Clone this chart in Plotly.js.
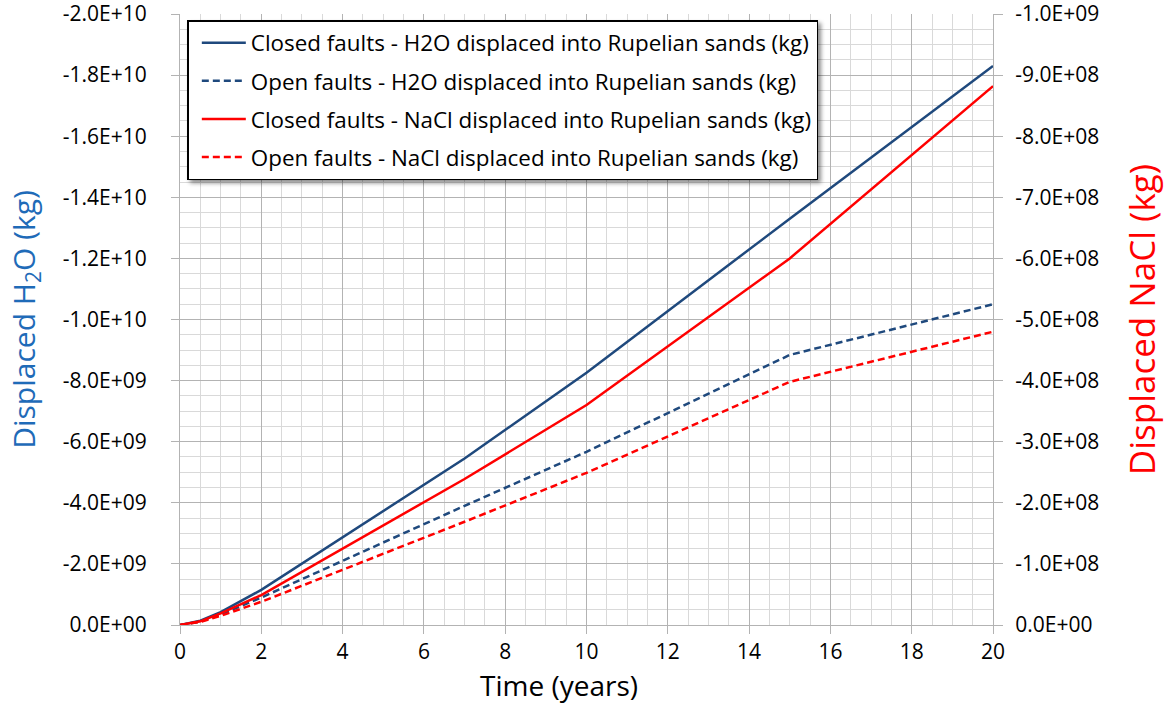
<!DOCTYPE html>
<html>
<head>
<meta charset="utf-8">
<script src="https://cdn.plot.ly/plotly-3.0.1.min.js"></script>
<style>
  html, body { margin: 0; padding: 0; background: #ffffff; }
  #chart { width: 1174px; height: 706px; }
  #chart .legend rect.bg { filter: drop-shadow(3px 3px 2px rgba(0,0,0,0.45)); }
</style>
</head>
<body>
<div id="chart"></div>
<script>
// ---- data ----
const timeYears = [0, 0.5, 1, 2, 7, 10, 15, 20];

// left axis: displaced H2O (kg)
const closedH2O = [0, -1.4e8, -4.2e8, -1.15e9, -5.45e9, -8.26e9, -1.33e10, -1.83e10];
const openH2O   = [0, -1.1e8, -3.4e8, -9.0e8,  -3.9e9,  -5.67e9, -8.84e9,  -1.05e10];

// right axis: displaced NaCl (kg)
const closedNaCl = [0, -6.0e6, -1.9e7, -4.9e7, -2.39e8, -3.60e8, -6.00e8, -8.82e8];
const openNaCl   = [0, -5.0e6, -1.5e7, -3.8e7, -1.69e8, -2.49e8, -3.98e8, -4.80e8];

const seriesNames = [
  'Closed faults - H2O displaced into Rupelian sands (kg)',
  'Open faults - H2O displaced into Rupelian sands (kg)',
  'Closed faults - NaCl displaced into Rupelian sands (kg)',
  'Open faults - NaCl displaced into Rupelian sands (kg)'
];
const xTitle = 'Time (years)';

const xTicks = [0, 2, 4, 6, 8, 10, 12, 14, 16, 18, 20];
const leftTickVals = [0, -2e9, -4e9, -6e9, -8e9, -1e10, -1.2e10, -1.4e10, -1.6e10, -1.8e10, -2e10];
const leftTickText = ['0.0E+00', '-2.0E+09', '-4.0E+09', '-6.0E+09', '-8.0E+09', '-1.0E+10',
                      '-1.2E+10', '-1.4E+10', '-1.6E+10', '-1.8E+10', '-2.0E+10'];
const rightTickVals = [0, -1e8, -2e8, -3e8, -4e8, -5e8, -6e8, -7e8, -8e8, -9e8, -1e9];
const rightTickText = ['0.0E+00', '-1.0E+08', '-2.0E+08', '-3.0E+08', '-4.0E+08', '-5.0E+08',
                       '-6.0E+08', '-7.0E+08', '-8.0E+08', '-9.0E+08', '-1.0E+09'];

// ---- styling ----
const BLUE = '#1f497d';
const RED = '#ff0000';
const FONT = '"Open Sans", "Noto Sans", sans-serif';
const DASH = '7px,4px';

const traces = [
  { x: timeYears, y: closedH2O, name: seriesNames[0], yaxis: 'y', legendgroup: 'a',
    mode: 'lines', line: { color: BLUE, width: 2.5 } },
  { x: timeYears, y: openH2O, name: seriesNames[1], yaxis: 'y', legendgroup: 'b',
    mode: 'lines', line: { color: BLUE, width: 2.5, dash: DASH } },
  { x: timeYears, y: closedNaCl, name: seriesNames[2], yaxis: 'y2', legendgroup: 'c',
    mode: 'lines', line: { color: RED, width: 2.5 } },
  { x: timeYears, y: openNaCl, name: seriesNames[3], yaxis: 'y2', legendgroup: 'd',
    mode: 'lines', line: { color: RED, width: 2.5, dash: DASH } }
];

const layout = {
  width: 1174, height: 706,
  margin: { l: 180, r: 181, t: 14, b: 81 },
  paper_bgcolor: '#ffffff', plot_bgcolor: '#ffffff',
  font: { family: FONT, size: 20, color: '#000000' },
  showlegend: true,
  legend: {
    x: 0.009, y: 0.99, xanchor: 'left', yanchor: 'top',
    bgcolor: '#ffffff', bordercolor: '#000000', borderwidth: 1.5,
    font: { family: FONT, size: 22.4, color: '#000000' },
    traceorder: 'grouped', tracegroupgap: 6, itemwidth: 44, indentation: 8
  },
  xaxis: {
    range: [0, 20], tickvals: xTicks, ticktext: xTicks.map(String),
    showgrid: true, gridcolor: '#b3b3b3', gridwidth: 1,
    minor: { dtick: 0.5, showgrid: true, gridcolor: '#d9d9d9', gridwidth: 1 },
    ticks: 'outside', ticklen: 8, tickcolor: '#b3b3b3', ticklabelstandoff: 0,
    ticklabeloverflow: 'allow',
    showline: true, linecolor: '#b3b3b3', linewidth: 1,
    zeroline: false,
    tickfont: { family: FONT, size: 21, color: '#000000' }
  },
  yaxis: {
    range: [0, -2e10], tickvals: leftTickVals, ticktext: leftTickText,
    showgrid: true, gridcolor: '#b3b3b3', gridwidth: 1,
    minor: { dtick: 5e8, showgrid: true, gridcolor: '#d9d9d9', gridwidth: 1 },
    ticks: 'outside', ticklen: 8, tickcolor: '#b3b3b3', ticklabelstandoff: 20,
    ticklabeloverflow: 'allow',
    showline: true, linecolor: '#b3b3b3', linewidth: 1,
    zeroline: false,
    tickfont: { family: FONT, size: 21, color: '#000000' },
    title: { text: 'Displaced H<sub>2</sub>O (kg)', font: { family: FONT, size: 30, color: '#1f6bb8' }, standoff: 18 }
  },
  yaxis2: {
    overlaying: 'y', side: 'right',
    range: [0, -1e9], tickvals: rightTickVals, ticktext: rightTickText,
    showgrid: false, zeroline: false,
    ticks: 'outside', ticklen: 9, tickcolor: '#b3b3b3', ticklabelstandoff: 8,
    ticklabeloverflow: 'allow',
    showline: true, linecolor: '#b3b3b3', linewidth: 1,
    tickfont: { family: FONT, size: 21, color: '#000000' },
    title: { text: 'Displaced NaCl (kg)', font: { family: FONT, size: 35, color: '#ff0000' }, standoff: 32 }
  },
  annotations: [
    { text: xTitle, xref: 'paper', yref: 'paper', x: 0.466, y: -0.1305,
      xanchor: 'center', yanchor: 'bottom', showarrow: false, borderpad: 0,
      font: { family: FONT, size: 28, color: '#000000' } }
  ]
};

Plotly.newPlot('chart', traces, layout, { displayModeBar: false, staticPlot: true });
</script>
</body>
</html>
